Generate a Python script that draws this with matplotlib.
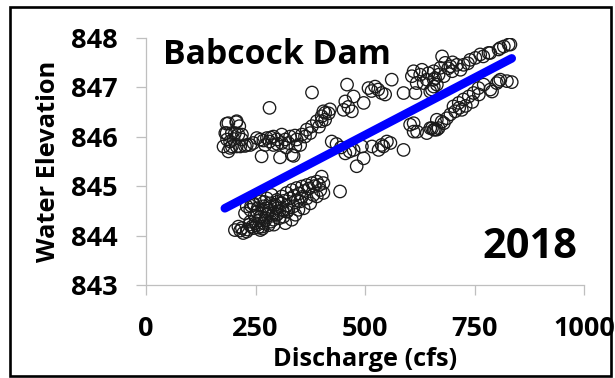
import matplotlib
matplotlib.use("Agg")
import matplotlib.pyplot as plt
from matplotlib.patches import Rectangle

plt.rcParams['font.family'] = ['Open Sans', 'DejaVu Sans']
plt.rcParams['font.weight'] = 'bold'

# ---- data ----
upper_left_x = [184, 206, 213, 188, 207, 181, 196, 211, 184, 203, 219, 200, 185, 219,
                177, 192, 207, 226, 238, 188, 196, 215, 230, 192]
upper_left_y = [846.26, 846.29, 846.21, 846.27, 846.31, 846.07, 846.07, 846.04, 846.07, 846.07,
                846.04, 845.95, 845.94, 845.94, 845.80, 845.77, 845.80, 845.81, 845.83, 845.70,
                845.80, 845.80, 845.83, 845.90]

band_x = [261, 276, 291, 310, 329, 272, 291, 310, 325, 344, 264, 306, 337, 245, 253, 299, 318,
          352, 356, 367, 379, 390, 401, 409, 363, 375, 341, 333, 282, 268, 320, 300, 285, 340,
          282, 379]
band_y = [845.94, 845.97, 846.00, 846.04, 846.00, 845.83, 845.83, 845.87, 845.87, 845.94, 845.60,
          845.58, 845.61, 845.87, 845.97, 845.94, 845.94, 845.83, 846.04, 846.14, 846.21, 846.31,
          846.41, 846.48, 846.00, 846.07, 845.80, 845.63, 845.90, 845.92, 845.78, 845.85, 845.98,
          846.02, 846.58, 846.89]

mid_upper_x = [405, 417, 401, 409, 395, 420, 459, 474, 455, 451, 470, 497, 462,
               508, 523, 538, 546, 561, 588, 530, 515]
mid_upper_y = [846.51, 846.47, 846.31, 846.34, 846.20, 846.55, 847.05, 846.81, 846.71, 846.54,
               846.51, 846.68, 846.60, 846.98, 847.01, 846.88, 846.85, 847.15, 846.88, 846.95,
               846.92]

upper_right_x = [607, 626, 618, 641, 657, 615, 611, 634, 649, 657, 653, 664, 660, 672, 657, 680,
                 676, 645, 630, 668, 683, 695, 699, 710, 718, 725, 740, 752, 763, 786, 782, 805,
                 809, 817, 828, 832, 690, 735, 700, 770]
upper_right_y = [847.22, 847.25, 847.08, 847.15, 847.01, 846.88, 847.32, 847.08, 846.91, 847.15,
                 846.95, 847.05, 847.18, 847.39, 847.32, 847.22, 847.62, 847.28, 847.35, 847.25,
                 847.49, 847.42, 847.32, 847.45, 847.35, 847.45, 847.55, 847.59, 847.66, 847.69,
                 847.69, 847.76, 847.79, 847.82, 847.86, 847.86, 847.38, 847.48, 847.50, 847.62]

lower_right_x = [603, 611, 611, 619, 641, 649, 653, 660, 664, 657, 668, 664, 680, 687, 702, 706,
                 714, 721, 725, 737, 748, 759, 771, 790, 786, 801, 809, 805, 824, 835, 695, 730,
                 745, 675, 715, 760]
lower_right_y = [846.24, 846.10, 846.27, 846.10, 846.07, 846.17, 846.17, 846.14, 846.14, 846.14,
                 846.17, 846.34, 846.27, 846.37, 846.61, 846.51, 846.68, 846.54, 846.75, 846.81,
                 846.88, 846.98, 847.05, 846.91, 846.95, 847.08, 847.15, 847.12, 847.12, 847.10,
                 846.45, 846.62, 846.70, 846.30, 846.58, 846.85]

middle_x = [424, 455, 474, 493, 516, 538, 558, 588, 481, 497, 550, 531, 542, 435, 445, 465, 443]
middle_y = [845.90, 845.66, 845.73, 845.80, 845.80, 845.83, 845.87, 845.73, 845.40, 845.56,
            845.90, 845.73, 845.80, 845.85, 845.78, 845.70, 844.89]

lower_x = [203, 219, 230, 242, 253, 268, 280, 291, 222, 261, 211, 238, 299,
           230, 245, 261, 276, 287, 299, 310, 321, 333, 344, 356, 367, 379, 390, 401, 405, 398,
           382, 367, 352, 337, 325, 314, 333, 318, 341, 360, 375, 390, 405, 238, 253, 268, 283,
           299, 291, 226, 276, 348, 310, 245, 250, 258, 265, 272, 285, 240, 255, 270, 295, 305,
           315, 328, 338, 350, 362, 372, 385, 395, 346, 356, 232, 215, 280, 320,
           248, 262, 275, 288, 236, 256, 266, 292, 304, 322, 247, 270, 284, 300, 312]
lower_y = [844.11, 844.15, 844.08, 844.18, 844.21, 844.25, 844.21, 844.32, 844.05, 844.11,
           844.18, 844.28, 844.42, 844.59, 844.65, 844.69, 844.75, 844.82, 844.72, 844.79,
           844.86, 844.92, 844.96, 844.99, 845.02, 845.06, 845.09, 845.19, 845.06, 844.92,
           844.82, 844.75, 844.69, 844.59, 844.52, 844.38, 844.32, 844.25, 844.42, 844.55,
           844.65, 844.79, 844.86, 844.52, 844.48, 844.59, 844.65, 844.55, 844.45, 844.45,
           844.42, 844.52, 844.65, 844.15, 844.25, 844.30, 844.18, 844.30, 844.28, 844.60,
           844.55, 844.68, 844.62, 844.50, 844.70, 844.75, 844.80, 844.85, 844.90, 844.95,
           845.00, 845.02, 844.70, 844.78, 844.12, 844.10, 844.50, 844.60,
           844.40, 844.38, 844.55, 844.40, 844.22, 844.16, 844.14, 844.22, 844.35, 844.48,
           844.62, 844.48, 844.58, 844.68, 844.52]

discharge = (upper_left_x + band_x + mid_upper_x + upper_right_x + lower_right_x
             + middle_x + lower_x)
elevation = (upper_left_y + band_y + mid_upper_y + upper_right_y + lower_right_y
             + middle_y + lower_y)

trend_x = [180, 835]
trend_y = [844.55, 847.58]

x_ticks = [0, 250, 500, 750, 1000]
y_ticks = [843, 844, 845, 846, 847, 848]

# ---- figure ----
fig = plt.figure(figsize=(6.15, 3.78), dpi=100)
ax = fig.add_axes([146 / 615, 1 - 285 / 378, 438 / 615, 247.4 / 378])

ax.scatter(discharge, elevation, s=80, facecolors='none', edgecolors='#1a1a1a',
           linewidths=0.95, zorder=2)
ax.plot(trend_x, trend_y, color='#0000ff', lw=6.2, solid_capstyle='round', zorder=3)

ax.set_xlim(0, 1000)
ax.set_ylim(843, 848)
ax.set_xticks(x_ticks)
ax.set_yticks(y_ticks)
ax.set_xticklabels([str(t) for t in x_ticks])
ax.set_yticklabels([str(t) for t in y_ticks])

for s in ['top', 'right']:
    ax.spines[s].set_visible(False)
for s in ['left', 'bottom']:
    ax.spines[s].set_color('#bfbfbf')
    ax.spines[s].set_linewidth(0.9)

ax.tick_params(axis='both', colors='#bfbfbf', length=7.2, width=0.9,
               labelcolor='black', labelsize=19.5)
ax.tick_params(axis='y', pad=13)
ax.tick_params(axis='x', pad=15)
for lab in ax.get_xticklabels() + ax.get_yticklabels():
    lab.set_fontweight('bold')

ax.set_xlabel('Discharge (cfs)', fontsize=18.3, fontweight='bold', va='center')
ax.xaxis.set_label_coords(0.5, -0.3)
ax.set_ylabel('Water Elevation', fontsize=18.3, fontweight='bold', va='center')
ax.yaxis.set_label_coords(-0.2215, 0.5)

fig.text(163 / 615, 1 - 64.3 / 378, 'Babcock Dam', fontsize=24.3, fontweight='bold',
         ha='left', va='baseline')
fig.text(530 / 615, 1 - 248 / 378, '2018', fontsize=29.9, fontweight='bold',
         ha='center', va='center')

fig.patches.append(Rectangle((9.5 / 615, 2 / 378), 601.5 / 615, 369.5 / 378,
                             transform=fig.transFigure, fill=False, edgecolor='black',
                             linewidth=1.9))

fig.savefig('out.png', dpi=100)
